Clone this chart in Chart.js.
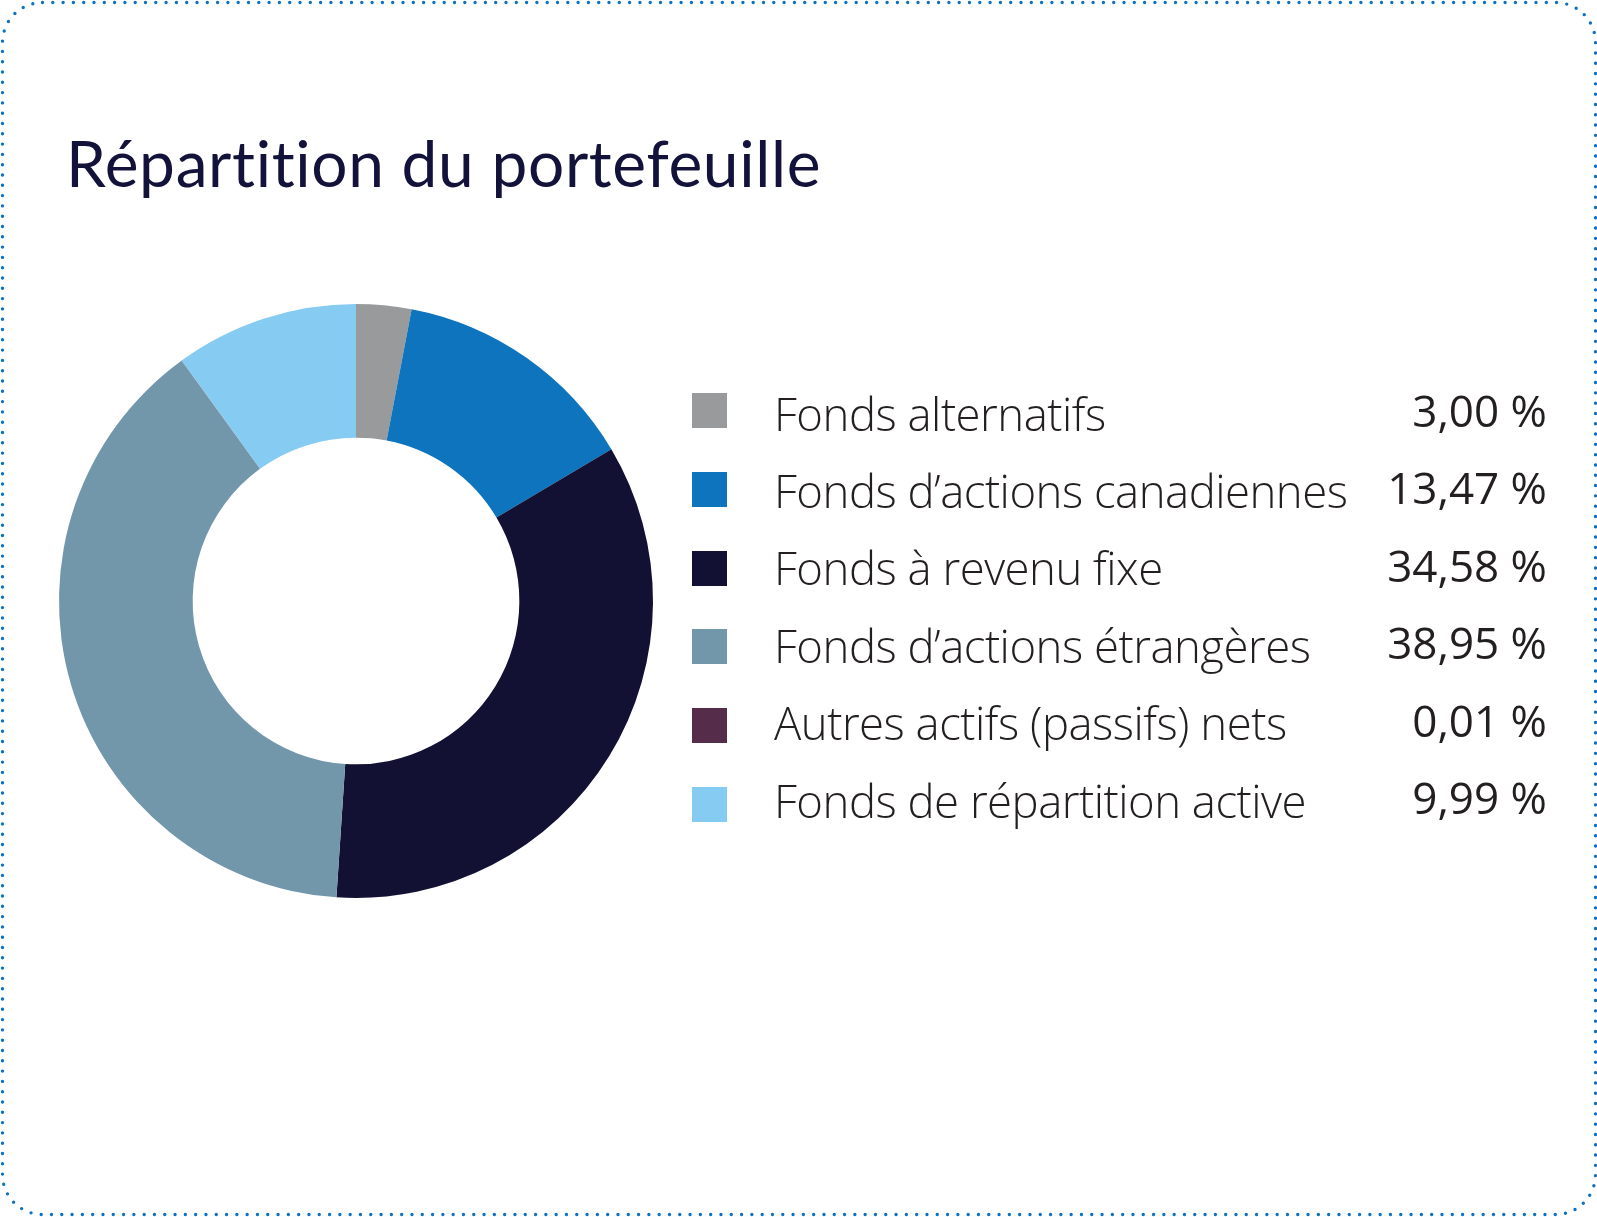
<!DOCTYPE html>
<html lang="fr">
<head>
<meta charset="utf-8">
<title>Répartition du portefeuille</title>
<script src="https://cdn.jsdelivr.net/npm/chart.js@4/dist/chart.umd.min.js"></script>
<style>
  html, body { margin: 0; padding: 0; background: #fff; }
  #page { position: relative; width: 1597px; height: 1217px; overflow: hidden; }
  #frame, #donut { position: absolute; left: 0; top: 0; }
  #title {
    position: absolute; left: 66px; top: 131px;
    font-family: Lato, "Open Sans", sans-serif; font-weight: 400;
    font-size: 64px; letter-spacing: 0.65px; line-height: 1;
    font-variant-ligatures: none; font-feature-settings: "liga" 0;
    color: #13123a; white-space: nowrap;
  }
  .swatch { position: absolute; left: 692px; width: 35px; height: 35px; }
  .label, .value {
    position: absolute; font-family: "Open Sans", sans-serif; line-height: 1;
    color: #231f20; white-space: nowrap;
  }
  .label { left: 774px; font-size: 45.5px; letter-spacing: -0.5px; font-weight: 300; }
  .value { right: 50px; font-size: 44px; font-weight: 400; }
</style>
</head>
<body>
<div id="page">
  <svg id="frame" width="1597" height="1217">
    <rect x="2.5" y="2.5" width="1593" height="1212" rx="40" ry="40"
          fill="none" stroke="#0b72c1" stroke-width="3.4"
          stroke-linecap="round" stroke-dasharray="0 10.3"/>
  </svg>
  <canvas id="donut" width="1597" height="1217"></canvas>
  <div id="title">Répartition du portefeuille</div>
  <div id="legend"></div>
</div>
<script>
// catégories du portefeuille
const categories = [
  'Fonds alternatifs',
  'Fonds d’actions canadiennes',
  'Fonds à revenu fixe',
  'Fonds d’actions étrangères',
  'Autres actifs (passifs) nets',
  'Fonds de répartition active'
];

// pourcentages
const values = [3.00, 13.47, 34.58, 38.95, 0.01, 9.99];

// libellés affichés à droite
const valueLabels = ['3,00 %', '13,47 %', '34,58 %', '38,95 %', '0,01 %', '9,99 %'];

const colors = ['#999a9c', '#0d74bd', '#121133', '#7296aa', '#552d4a', '#86cbf2'];

// légende en HTML (texte réel)
const legend = document.getElementById('legend');
categories.forEach((cat, i) => {
  const sw = document.createElement('div');
  sw.className = 'swatch';
  sw.style.top = (393 + i * 78.8) + 'px';
  sw.style.background = colors[i];
  legend.appendChild(sw);

  const lab = document.createElement('div');
  lab.className = 'label';
  lab.style.top = (390.5 + i * 77.4) + 'px';
  lab.textContent = cat;
  legend.appendChild(lab);

  const val = document.createElement('div');
  val.className = 'value';
  val.style.top = (388 + i * 77.4) + 'px';
  val.textContent = valueLabels[i];
  legend.appendChild(val);
});

// centre du donut ~ (356, 601), rayon ~297
const config = {
  type: 'doughnut',
  data: {
    labels: categories,
    datasets: [{
      data: values,
      backgroundColor: colors,
      borderWidth: 0,
      hoverOffset: 0
    }]
  },
  options: {
    responsive: false,
    animation: false,
    cutout: '55%',
    layout: {
      padding: { left: 59, top: 304, right: 944, bottom: 319 }
    },
    plugins: {
      legend: { display: false },
      tooltip: { enabled: false }
    }
  }
};

const myChart = new Chart(document.getElementById('donut'), config);
</script>
</body>
</html>
